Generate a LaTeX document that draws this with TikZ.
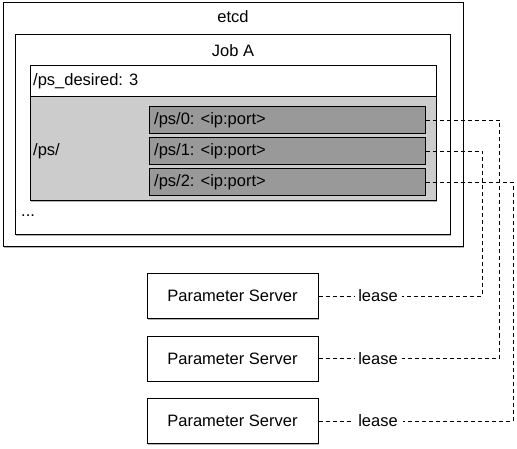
\documentclass[tikz,border=0pt]{standalone}
\usepackage{fontspec}
\setmainfont{Liberation Sans}
\usetikzlibrary{shadows}
\definecolor{lightg}{HTML}{CCCCCC}
\definecolor{darkg}{HTML}{999999}
\begin{document}
\begin{tikzpicture}[x=1pt,y=-1pt,
  every node/.style={font=\fontsize{16.5}{19}\selectfont, inner sep=0pt},
  box/.style={draw=black, line width=1pt, fill=white, drop shadow={shadow xshift=0.8pt, shadow yshift=-1.4pt, opacity=0.3, fill=black}},
  plain/.style={draw=black, line width=1pt},
  darkbox/.style={draw=black, line width=1pt, fill=darkg, minimum width=276pt, minimum height=27pt},
  psbox/.style={box, minimum width=171pt, minimum height=45pt},
  conn/.style={draw=black, line width=0.8pt, dash pattern=on 4pt off 3pt},
  lbl/.style={anchor=west}
]
\useasboundingbox (0,0) rectangle (517,449);
\fill[white] (0,0) rectangle (517,449);

\node[box, minimum width=460pt, minimum height=244pt] (etcd) at (233,125) {};
\node[box, minimum width=435pt, minimum height=200pt] (joba) at (232.5,135) {};
\node[box, fill=lightg, minimum width=406pt, minimum height=104pt] (psdir) at (233,149) {};
\node[plain, fill=white, minimum width=406pt, minimum height=31pt] (desired) at (233,81.5) {};

\node[darkbox] (d0) at (287,120) {};
\node[darkbox] (d1) at (287,151) {};
\node[darkbox] (d2) at (287,182.5) {};

\node (tetcd) at (233,17) {etcd};
\node (tjob) at (233,51) {Job A};
\node[lbl] (tdes) at (33,81.5) {/ps\_desired: 3};
\node[lbl] (tps) at (33,151) {/ps/};
\node[lbl] (tdots) at (21,216) {...};
\node[lbl] (t0) at (154,120) {/ps/0: <ip:port>};
\node[lbl] (t1) at (154,151) {/ps/1: <ip:port>};
\node[lbl] (t2) at (154,182.5) {/ps/2: <ip:port>};

\node[psbox] (p1) at (232.5,296) {Parameter Server};
\node[psbox] (p2) at (232.5,358.5) {Parameter Server};
\node[psbox] (p3) at (232.5,421) {Parameter Server};

\node[inner xsep=4pt] (l1) at (378,296) {lease};
\node[inner xsep=4pt] (l2) at (378,358.5) {lease};
\node[inner xsep=5pt] (l3) at (378,421) {lease};

\coordinate (c1) at (482,296);
\coordinate (c2) at (499,358.5);
\coordinate (c3) at (513,421);

\draw[conn] (p1.east) -- (l1.west);
\draw[conn] (p2.east) -- (l2.west);
\draw[conn] (p3.east) -- (l3.west);
\draw[conn] (d1.east) -| (c1) -- (l1.east);
\draw[conn] (d0.east) -| (c2) -- (l2.east);
\draw[conn] (d2.east) -| (c3) -- (l3.east);
\end{tikzpicture}
\end{document}
